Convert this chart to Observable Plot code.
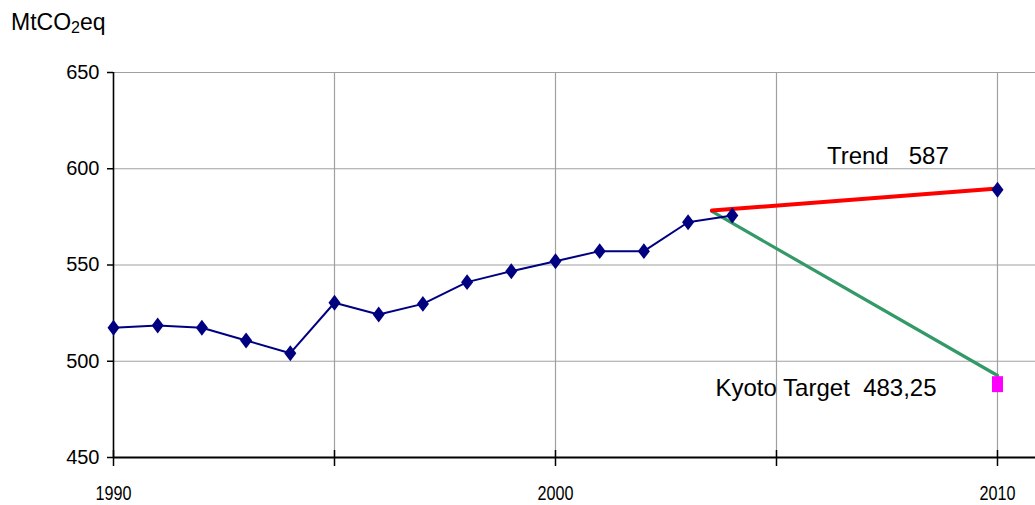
<!DOCTYPE html>
<html><head><meta charset="utf-8">
<script src="https://cdn.jsdelivr.net/npm/d3@7"></script>
<script src="https://cdn.jsdelivr.net/npm/@observablehq/plot@0.6"></script>
<style>
body{margin:0;background:#fff;}
#wrap{position:relative;width:1035px;height:505px;}
#wrap svg{position:absolute;left:0;top:0;}
#title{position:absolute;left:11px;top:9px;font:23px "Liberation Sans",Arial,sans-serif;color:#000;line-height:27px;z-index:2;}
#title sub{font-size:16px;vertical-align:-3px;line-height:0;}
svg text{white-space:pre;}
</style></head><body>
<div id="wrap"><div id="title">MtCO<sub>2</sub>eq</div></div>
<script>
// Observed emissions (MtCO2eq)
const years = [1990,1991,1992,1993,1994,1995,1996,1997,1998,1999,2000,2001,2002,2003,2004];
const emissions = [517.4,518.6,517.4,510.8,504.2,530.4,524.3,529.8,541.1,546.8,552.0,557.2,557.2,572.2,575.7];
// Trend projection
const trendYears = [2003.54, 2010];
const trendValues = [578.3, 589.8];
const trendPointYear = [2010];
const trendPointValue = [589.1];
// Kyoto path
const kyotoYears = [2003.54, 2010];
const kyotoValues = [577.8, 492.6];
const targetYear = [2010];
const targetValue = [488.1];
// Axes
const yTicks = [450,500,550,600,650];
const xTicks = [1990,1995,2000,2005,2010];
const xLabels = [1990,2000,2010];
const gridYears = [1995,2000,2005,2010];
const gridValues = [500,550,600,650];
// Annotations
const labelTexts = ["Trend   587", "Kyoto Target  483,25"];
const labelYears = [2006.14, 2003.62];
const labelValues = [602.6, 482.2];

const obs = years.map((y,i)=>({year:y, value:emissions[i]}));
const pts = obs.concat(trendPointYear.map((y,i)=>({year:y, value:trendPointValue[i]})));
const trend = trendYears.map((y,i)=>({year:y, value:trendValues[i]}));
const kyoto = kyotoYears.map((y,i)=>({year:y, value:kyotoValues[i]}));
const target = targetYear.map((y,i)=>({year:y, value:targetValue[i]}));
const labels = labelTexts.map((t,i)=>({text:t, year:labelYears[i], value:labelValues[i]}));

const diamond = {draw(ctx, size){const s=Math.sqrt(size), w=s*0.68, h=s*0.9;
  ctx.moveTo(0,-h); ctx.lineTo(w,0); ctx.lineTo(0,h); ctx.lineTo(-w,0); ctx.closePath();}};
const tallRect = {draw(ctx, size){const s=Math.sqrt(size), w=s*0.62, h=s*0.9;
  ctx.moveTo(-w,-h); ctx.lineTo(w,-h); ctx.lineTo(w,h); ctx.lineTo(-w,h); ctx.closePath();}};

const font = '"Liberation Sans", Arial, sans-serif';
const chart = Plot.plot({
  width:1035, height:505,
  marginLeft:113, marginRight:0, marginTop:72, marginBottom:48,
  x:{domain:[1990, 2010.86]},
  y:{domain:[450, 650]},
  style:{fontFamily:font, fontSize:"20px", color:"#000", background:"transparent", overflow:"visible"},
  marks:[
    Plot.ruleY(gridValues, {stroke:"#a0a0a0", strokeWidth:1.2}),
    Plot.ruleX(gridYears, {stroke:"#a0a0a0", strokeWidth:1.2}),
    Plot.ruleY([450], {stroke:"#000", strokeWidth:2}),
    Plot.ruleX([1990], {stroke:"#000", strokeWidth:1.6}),
    Plot.axisY(yTicks, {tickSize:6, tickPadding:8, fontSize:20, fontFamily:font, label:null, strokeWidth:1.5}),
    Plot.axisX(xTicks, {tickSize:16, dy:-7, tickFormat:()=>"", label:null, strokeWidth:1.5}),
    Plot.axisX(xLabels, {tickSize:0, tickPadding:28, fontSize:20, fontFamily:font, tickFormat:d=>String(d), label:null}),
    Plot.line(kyoto, {x:"year", y:"value", stroke:"#339966", strokeWidth:3.2}),
    Plot.line(trend, {x:"year", y:"value", stroke:"#ff0000", strokeWidth:4}),
    Plot.line(obs, {x:"year", y:"value", stroke:"#000080", strokeWidth:2}),
    Plot.dot(pts, {x:"year", y:"value", symbol:diamond, r:5, fill:"#000080", stroke:"none"}),
    Plot.dot(target, {x:"year", y:"value", symbol:tallRect, r:5, fill:"#ff00ff", stroke:"none"}),
    Plot.text(labels, {x:"year", y:"value", text:"text", textAnchor:"start", lineAnchor:"bottom", fontSize:24, fontFamily:font, fill:"#000"})
  ]
});
// condensed look of the year labels
d3.select(chart).selectAll('g[aria-label="x-axis tick label"] text')
  .attr("textLength", 36).attr("lengthAdjust", "spacingAndGlyphs");
document.getElementById("wrap").appendChild(chart);
</script>
</body></html>
